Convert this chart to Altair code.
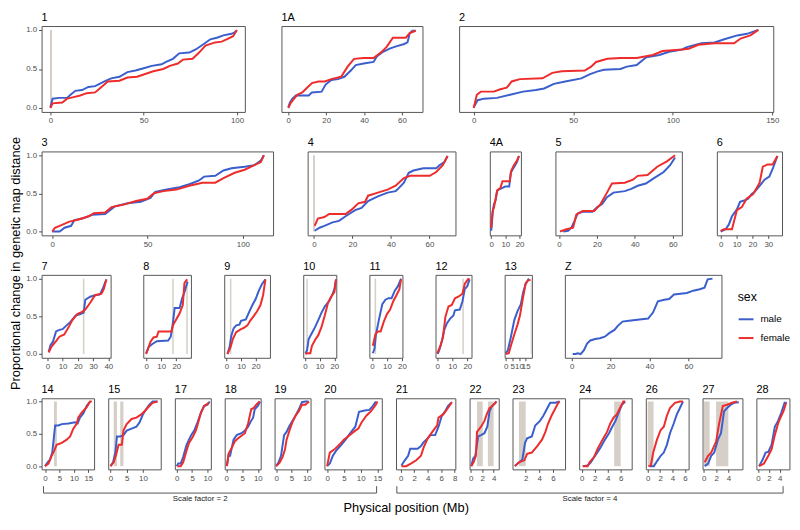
import altair as alt
import pandas as pd

# ---------------- data: (position in Mb, proportional change) ----------------
c1_male = [(0,0.01),(1.2,0.12),(4.7,0.13),(9,0.13),(10.8,0.17),(13.4,0.22),(17,0.23),(20.4,0.27),(24,0.28),(29,0.34),(32.6,0.38),(37,0.40),(41.3,0.46),(45.6,0.48),(50,0.51),(54.4,0.54),(59.6,0.56),(62,0.59),(65.7,0.63),(69,0.70),(74.4,0.71),(77.9,0.75),(82.2,0.82),(85.7,0.88),(89.2,0.90),(92.7,0.93),(97,0.95),(98.8,0.97),(99.5,0.99)]
c1_female = [(0,0.0),(1.2,0.06),(6.4,0.07),(9,0.12),(12.5,0.14),(16,0.16),(19.5,0.19),(24,0.20),(27.4,0.27),(30.8,0.34),(37,0.35),(41.3,0.39),(46.5,0.40),(50,0.43),(55.2,0.47),(60.5,0.50),(64,0.54),(68.3,0.57),(71,0.62),(76.2,0.63),(79.7,0.71),(83.1,0.80),(88.3,0.84),(91.8,0.85),(95.3,0.89),(97.9,0.92),(100,1.0)]
c1A_male = [(0,0.01),(0.9,0.07),(2.2,0.12),(4,0.16),(7.4,0.16),(10.8,0.16),(12.5,0.20),(17.6,0.21),(19.7,0.30),(22.7,0.36),(26.2,0.37),(29.6,0.40),(33,0.48),(35.6,0.55),(39.8,0.57),(45,0.59),(46.7,0.66),(50,0.72),(53.5,0.76),(56.9,0.79),(61.2,0.82),(62.9,0.84),(64.1,0.96),(65.5,0.99),(67.2,0.99)]
c1A_female = [(0,0.0),(1.4,0.07),(3.1,0.12),(4.8,0.17),(7.4,0.20),(9.9,0.26),(12.5,0.32),(15.9,0.34),(19.3,0.34),(22.7,0.37),(27.9,0.40),(31.3,0.53),(34.7,0.63),(39.8,0.64),(45,0.64),(49.3,0.72),(51.8,0.78),(55.2,0.90),(62,0.90),(64.1,0.96),(67.2,0.99)]
c2_male = [(0,0.01),(2,0.10),(5.2,0.12),(11.7,0.13),(18.3,0.17),(24.8,0.21),(31.3,0.23),(35.4,0.25),(40.3,0.31),(46,0.34),(54.1,0.38),(58.2,0.43),(62.3,0.47),(65.5,0.49),(73.7,0.50),(77,0.53),(81.9,0.55),(86.7,0.65),(93.3,0.68),(98.2,0.72),(104.7,0.75),(107.1,0.78),(114.5,0.83),(121,0.84),(125.9,0.88),(132.4,0.93),(137.3,0.95),(143,1.0)]
c2_female = [(0,0.0),(1.6,0.17),(3.6,0.21),(10.1,0.21),(13.4,0.24),(16.6,0.26),(19.1,0.34),(23.2,0.37),(34.6,0.38),(39.5,0.45),(44.3,0.47),(55.8,0.48),(59,0.53),(61.5,0.59),(67.2,0.63),(73.7,0.64),(81.9,0.64),(90,0.68),(94.9,0.73),(104.7,0.75),(108,0.76),(112.9,0.81),(121,0.83),(130.8,0.83),(134.1,0.89),(139,0.93),(143,1.0)]
c3_male = [(0,0.0),(3.9,0.0),(6.5,0.05),(9.9,0.075),(11.6,0.15),(15.8,0.17),(20.9,0.22),(27.7,0.23),(32.8,0.33),(39.6,0.37),(46.4,0.39),(51.5,0.44),(54,0.52),(60,0.55),(66.8,0.58),(71.9,0.62),(77,0.67),(79.6,0.72),(85.5,0.73),(89.8,0.80),(94,0.83),(100.9,0.85),(106,0.87),(109.4,0.93),(111,1.0)]
c3_female = [(0,0.0),(1.4,0.05),(4.8,0.085),(9,0.13),(13.3,0.155),(19.2,0.20),(21.8,0.24),(27.7,0.25),(31.1,0.32),(37,0.35),(43.9,0.40),(49.8,0.43),(53.2,0.50),(58.3,0.53),(65.1,0.55),(71.9,0.60),(78.7,0.64),(85.5,0.64),(89.8,0.70),(95.7,0.77),(100.9,0.81),(106,0.87),(109.4,0.91),(111,1.0)]
c4_male = [(0.35,0.01),(2.9,0.05),(5.4,0.075),(9.6,0.12),(13,0.14),(16.4,0.20),(21.4,0.28),(24.7,0.31),(28.1,0.40),(33.2,0.46),(38.2,0.51),(42.4,0.53),(43.3,0.55),(46.7,0.64),(49.2,0.77),(51.7,0.80),(56.8,0.83),(60.1,0.83),(63.5,0.83),(65.2,0.87),(67.7,0.91),(69.4,0.99)]
c4_female = [(0.35,0.075),(2,0.17),(5.4,0.19),(7.9,0.23),(16.4,0.23),(19.7,0.29),(23,0.37),(26.5,0.39),(28.1,0.47),(33.2,0.51),(38.2,0.55),(42.4,0.60),(46.7,0.70),(50,0.73),(55,0.73),(60.1,0.73),(63.5,0.78),(66.9,0.87),(69.4,0.99)]
c4A_male = [(0,0.01),(0.4,0.09),(1.3,0.30),(2,0.36),(3.1,0.41),(4.2,0.53),(5.3,0.55),(7.6,0.57),(9.8,0.59),(12.7,0.59),(13.8,0.77),(15.3,0.82),(16.9,0.87),(18.2,0.91),(19.6,0.99)]
c4A_female = [(0,0.05),(0.9,0.26),(2,0.32),(3.1,0.43),(4.2,0.54),(6.4,0.57),(8,0.66),(13.1,0.66),(14.2,0.80),(16,0.87),(18.2,0.93),(19.6,0.99)]
c5_male = [(2.2,0.0),(4.8,0.01),(6.5,0.05),(8.2,0.14),(9.9,0.24),(12.5,0.26),(17.6,0.26),(20.2,0.32),(22.7,0.36),(25.3,0.45),(28.7,0.51),(34.7,0.53),(38.1,0.56),(41.5,0.60),(45.8,0.63),(50.1,0.70),(55.2,0.78),(58.6,0.87),(61.2,0.97)]
c5_female = [(0.5,0.0),(3.9,0.03),(7.4,0.05),(9.1,0.22),(12.5,0.27),(18.5,0.27),(21.9,0.36),(25.3,0.51),(27.9,0.63),(34.7,0.64),(39,0.68),(41.5,0.73),(46.7,0.74),(51.8,0.85),(56.9,0.92),(61.2,1.0)]
c6_male = [(0,0.0),(3.1,0.03),(5.1,0.09),(7.1,0.20),(10.2,0.29),(12.2,0.39),(15.3,0.41),(17.3,0.43),(19.4,0.49),(21.4,0.52),(24.5,0.60),(27.6,0.68),(30.6,0.72),(32.7,0.82),(35.7,0.99)]
c6_female = [(0,0.01),(2,0.03),(7.1,0.03),(10.2,0.28),(13.3,0.32),(16.3,0.43),(20.4,0.49),(24.5,0.64),(26.5,0.85),(29.6,0.88),(32.7,0.88),(35.7,0.99)]
c7_male = [(0.9,0.03),(2.1,0.12),(3.6,0.16),(5.7,0.30),(7.9,0.32),(10,0.33),(12.1,0.37),(15.3,0.43),(18.5,0.51),(21.7,0.53),(23.8,0.55),(24.9,0.72),(28.1,0.76),(31.3,0.78),(34.5,0.79),(36.6,0.88),(38.7,0.99)]
c7_female = [(0.9,0.02),(2.6,0.095),(5.7,0.17),(7.9,0.23),(11.1,0.26),(14.3,0.37),(16.4,0.45),(19.6,0.53),(22.8,0.56),(24.9,0.59),(28.1,0.68),(31.3,0.78),(35.5,0.80),(37,0.86),(38.7,0.99)]
c8_male = [(0,0.01),(1.7,0.095),(3.9,0.13),(7.1,0.17),(14.6,0.18),(16.3,0.23),(17.8,0.42),(18.9,0.61),(22.2,0.61),(23.7,0.73),(25.4,0.82),(26.9,0.92),(27.5,0.96)]
c8_female = [(0,0.0),(1.3,0.07),(2.8,0.16),(4.9,0.22),(7.1,0.23),(8.2,0.30),(16.8,0.30),(17.8,0.38),(20,0.46),(22.2,0.54),(24.3,0.65),(25.4,0.94),(27.1,0.99)]
c9_male = [(0.7,0.0),(2.2,0.095),(3.3,0.24),(4.9,0.34),(6.7,0.38),(8.9,0.39),(10,0.44),(13.3,0.46),(15.6,0.56),(17.8,0.65),(20,0.73),(22.2,0.84),(24.4,0.93),(26.7,0.99)]
c9_female = [(0.7,0.0),(2.9,0.095),(4.4,0.20),(6.7,0.29),(10,0.33),(12.2,0.35),(14.4,0.38),(16.2,0.44),(18.9,0.51),(21.1,0.57),(23.3,0.65),(25.1,0.78),(26.7,0.99)]
c10_male = [(0.4,0.01),(1.5,0.05),(2.6,0.20),(4.8,0.28),(7,0.36),(9.1,0.45),(11.3,0.55),(13.5,0.63),(16.7,0.71),(18.9,0.80),(20,0.86),(21.1,0.99)]
c10_female = [(0.4,0.0),(1.5,0.01),(3.7,0.01),(4.8,0.11),(7,0.19),(9.1,0.25),(11.3,0.36),(13.5,0.51),(15.7,0.68),(17.8,0.76),(20,0.82),(21.1,0.99)]
c11_male = [(0.6,0.01),(1.7,0.07),(2.7,0.26),(4.8,0.47),(6.9,0.66),(9,0.72),(11,0.74),(13.1,0.74),(15.2,0.84),(17.3,0.90),(19.4,1.0)]
c11_female = [(0.6,0.11),(2.3,0.26),(3.8,0.30),(5.8,0.30),(7.9,0.43),(10,0.53),(12.1,0.59),(14.2,0.70),(16.3,0.78),(18.3,0.86),(19.4,0.99)]
c12_male = [(0.4,0.0),(1.7,0.07),(3.2,0.18),(4.7,0.32),(6.5,0.41),(8.6,0.47),(10.8,0.51),(11.8,0.58),(15,0.59),(16.8,0.70),(18.3,0.86),(20,0.90),(21.5,0.99)]
c12_female = [(0,0.01),(2.2,0.11),(3.9,0.23),(5.4,0.49),(7.5,0.63),(9.7,0.65),(11.8,0.74),(14,0.76),(16.8,0.80),(18.3,0.93),(20.4,0.99),(21.5,1.0)]
c13_male = [(0,0.01),(1.7,0.05),(4.1,0.24),(6.5,0.45),(8.9,0.57),(11.4,0.66),(13.1,0.82),(15,0.93),(17.4,1.0)]
c13_female = [(0,0.0),(2.4,0.01),(4.1,0.12),(6.5,0.26),(8.9,0.39),(10.7,0.51),(12.6,0.71),(15,0.94),(16.9,0.98),(18.6,0.98)]
cZ_male = [(0.5,0.0),(2.1,0.0),(3,0.01),(4.6,0.0),(6.3,0.05),(7.9,0.14),(9.6,0.18),(12.1,0.20),(14.5,0.21),(17,0.23),(19.5,0.28),(22,0.32),(23.6,0.37),(26.1,0.43),(29.4,0.44),(32.7,0.45),(36,0.46),(39.3,0.47),(41.8,0.55),(44.3,0.70),(47.6,0.72),(50.1,0.73),(52.6,0.79),(55.9,0.80),(59.2,0.81),(62.5,0.84),(65.8,0.86),(68.3,0.88),(69.9,0.99),(72.4,1.0)]
cZ_female = []
c14_male = [(0,0.0),(0.9,0.06),(1.7,0.10),(2.5,0.21),(3.5,0.63),(4.6,0.63),(5.8,0.65),(8.1,0.66),(10.4,0.68),(11.3,0.66),(12.1,0.75),(13.3,0.82),(14.4,0.93),(15.6,1.0)]
c14_female = [(0,0.0),(1.2,0.04),(2.3,0.16),(3.2,0.24),(4,0.33),(5.8,0.36),(7.5,0.41),(8.7,0.46),(9.8,0.58),(11,0.66),(11.5,0.75),(12.7,0.83),(14.4,0.91),(15.6,1.0),(16.2,1.0)]
c15_male = [(0,0.0),(0.8,0.06),(1.5,0.21),(2,0.46),(3,0.46),(4,0.48),(5,0.55),(6.5,0.58),(8,0.61),(9,0.68),(10,0.80),(11,0.88),(12,0.95),(13,1.0),(14.5,1.0)]
c15_female = [(0,0.0),(1,0.06),(1.8,0.19),(2.5,0.33),(3.5,0.33),(4,0.55),(5,0.65),(6.5,0.73),(8,0.75),(9.5,0.80),(10.5,0.85),(12,0.93),(13,0.98),(14.5,1.0)]
c17_male = [(0,0.0),(0.5,0.04),(1.3,0.04),(2.1,0.14),(3.2,0.33),(4,0.41),(4.7,0.48),(5.8,0.56),(6.8,0.68),(7.9,0.83),(8.9,0.93),(10,0.95),(10.7,1.0)]
c17_female = [(0.2,0.0),(1.3,0.0),(2.1,0.06),(3.2,0.24),(4,0.36),(5.3,0.46),(6.3,0.56),(7.2,0.71),(7.9,0.83),(8.9,0.93),(10.5,0.98)]
c18_male = [(0.2,0.01),(0.7,0.16),(1.2,0.16),(2.3,0.41),(3.3,0.48),(4.8,0.51),(5.9,0.55),(6.9,0.61),(7.6,0.68),(8.5,0.75),(9,0.88),(10,0.93),(10.7,1.0)]
c18_female = [(0.2,0.0),(0.7,0.19),(1.8,0.29),(2.8,0.39),(3.8,0.43),(4.8,0.47),(5.9,0.51),(6.9,0.66),(7.9,0.88),(8.7,0.90),(9.5,0.95),(10.5,1.0)]
c19_male = [(0,0.0),(0.8,0.06),(1.6,0.16),(2.6,0.48),(3.4,0.53),(4.2,0.61),(5.3,0.70),(6.3,0.78),(7.4,0.88),(8.4,0.99),(9.5,1.0),(10.5,1.0)]
c19_female = [(0,0.0),(1.1,0.05),(2.1,0.14),(2.9,0.26),(3.4,0.41),(4.4,0.56),(5.3,0.68),(6.3,0.78),(7.4,0.85),(8.4,0.95),(9.5,0.95),(10.7,1.0)]
c20_male = [(0,0.0),(0.8,0.04),(1.7,0.16),(2.7,0.24),(4.1,0.32),(5.5,0.41),(6.9,0.51),(8.4,0.61),(9.5,0.84),(11.2,0.86),(12.6,0.87),(13.6,0.93),(14.5,1.0)]
c20_female = [(0,0.0),(0.8,0.21),(2.2,0.26),(3.6,0.33),(5,0.41),(6.5,0.47),(7.9,0.53),(9.3,0.58),(10.3,0.68),(11.7,0.78),(13.1,0.85),(14.5,0.95),(15,1.0)]
c21_male = [(0.1,0.01),(0.6,0.09),(1.1,0.16),(1.4,0.27),(2.5,0.27),(3,0.31),(3.4,0.37),(4,0.43),(4.4,0.48),(5.1,0.48),(5.6,0.61),(6.1,0.78),(6.6,0.85),(7,0.93),(7.5,0.98)]
c21_female = [(0.1,0.0),(0.8,0.0),(1.5,0.04),(2.3,0.09),(3,0.16),(3.4,0.29),(4,0.43),(4.9,0.56),(5.4,0.63),(5.6,0.75),(6.3,0.80),(7,0.90),(7.6,0.99)]
c22_male = [(0.1,0.0),(0.4,0.11),(0.8,0.16),(1.3,0.46),(1.8,0.48),(2.4,0.51),(2.9,0.61),(3.3,0.85),(3.7,0.93),(4.1,0.96),(4.5,1.0)]
c22_female = [(0.1,0.0),(0.5,0.06),(0.9,0.16),(1.1,0.53),(1.8,0.61),(2.4,0.70),(2.8,0.80),(3.3,0.90),(3.8,0.93),(4.5,1.0)]
c23_male = [(0.4,0.0),(0.8,0.04),(1.5,0.10),(1.9,0.36),(2.2,0.43),(2.9,0.46),(3.4,0.63),(4.1,0.70),(4.6,0.78),(5.1,0.88),(5.6,0.98),(6.4,0.98),(7,1.0)]
c23_female = [(0.4,0.0),(1,0.06),(1.8,0.09),(2.2,0.19),(2.9,0.21),(3.7,0.31),(4.4,0.41),(4.9,0.53),(5.3,0.66),(5.8,0.78),(6.3,0.88),(6.8,0.98),(7,1.0)]
c24_male = [(0.15,0.0),(0.9,0.01),(1.4,0.06),(1.9,0.14),(2.4,0.21),(2.9,0.29),(3.4,0.38),(4.2,0.51),(4.7,0.61),(5.2,0.70),(5.7,0.83),(6.2,0.95),(6.7,1.0)]
c24_female = [(0.15,0.0),(0.9,0.0),(1.2,0.06),(1.9,0.14),(2.4,0.26),(3.2,0.41),(3.9,0.53),(4.4,0.66),(4.9,0.75),(5.4,0.80),(5.9,0.90),(6.4,1.0),(6.7,1.0)]
c26_male = [(0.3,0.0),(1,0.0),(1.6,0.09),(2.1,0.16),(2.6,0.21),(3.1,0.33),(3.6,0.51),(4.2,0.66),(4.7,0.80),(5.2,0.90),(5.7,1.0)]
c26_female = [(0.1,0.0),(0.5,0.01),(0.9,0.21),(1.5,0.41),(2.1,0.56),(2.6,0.61),(3.1,0.78),(3.6,0.90),(4.4,0.98),(5.2,1.0),(5.7,1.0)]
c27_male = [(0.15,0.0),(0.7,0.04),(1.2,0.16),(1.7,0.21),(2.3,0.41),(2.8,0.51),(3.3,0.85),(3.8,0.90),(4.4,0.95),(4.9,0.98),(5.7,0.99)]
c27_female = [(0.15,0.06),(0.7,0.16),(1.2,0.21),(2,0.38),(2.5,0.66),(3.1,0.93),(3.8,0.95),(4.6,0.98),(5.4,1.0)]
c28_male = [(0.2,0.0),(0.8,0.09),(1.4,0.21),(1.9,0.22),(2.5,0.33),(3.1,0.61),(3.7,0.70),(4.3,0.83),(4.9,0.98),(5.3,0.98)]
c28_female = [(0.2,0.0),(1.1,0.04),(1.9,0.16),(2.5,0.26),(3.1,0.48),(3.7,0.66),(4.3,0.78),(4.7,0.85),(5.2,0.98)]

# grey (unassembled / gap) regions, Mb
gray_regions = {
    "1": [(-0.2, 0.9)], "4": [(-0.5, 0.5)], "7": [(23.3, 24.3)],
    "8": [(17.3, 18.3), (26.6, 27.6)], "9": [(2.4, 3.4)], "10": [(1.0, 2.0)],
    "11": [(1.8, 2.8)], "12": [(16.7, 17.7)], "13": [(18.7, 19.6)],
    "14": [(3.1, 4.1)], "15": [(1.0, 2.0), (3.0, 4.0)],
    "22": [(1.1, 2.1), (3.0, 4.0)], "23": [(1.0, 2.0)], "24": [(5.0, 6.0)],
    "26": [(0.0, 0.95)], "27": [(0.0, 0.95), (2.0, 4.0)],
}

# x-axis domains and tick labels
x_domains = {
    "1": [-4.7, 104.2], "1A": [-3.6, 70.8], "2": [-7.3, 150.5],
    "3": [-5.6, 115.8], "4": [-3.3, 73.5], "4A": [-1, 21], "5": [-1.9, 64.8], "6": [-2.4, 38.6],
    "7": [-3.8, 41.5], "8": [-1.9, 29.7], "9": [-1.5, 29.8], "10": [-1.1, 21.3], "11": [-1.7, 20.3],
    "12": [-1.1, 22.8], "13": [-0.7, 19.6], "Z": [-3.5, 77],
    "14": [-1.2, 17], "15": [-0.7, 15.5], "17": [-0.6, 11.1], "18": [-0.5, 10.9], "19": [-0.5, 11.2],
    "20": [-0.8, 16.3], "21": [-0.7, 8.1], "22": [-0.2, 4.9], "23": [0.05, 7.8], "24": [-0.4, 7.7],
    "26": [-0.3, 6.6], "27": [-0.2, 6.3], "28": [-0.3, 5.8],
}
x_ticks = {
    "1": [0, 50, 100], "1A": [0, 20, 40, 60], "2": [0, 50, 100, 150],
    "3": [0, 50, 100], "4": [0, 20, 40, 60], "4A": [0, 10, 20], "5": [0, 20, 40, 60], "6": [0, 10, 20, 30],
    "7": [0, 10, 20, 30, 40], "8": [0, 10, 20], "9": [0, 10, 20], "10": [0, 10, 20], "11": [0, 10, 20],
    "12": [0, 10, 20], "13": [0, 5, 10, 15], "Z": [0, 20, 40, 60],
    "14": [0, 5, 10, 15], "15": [0, 5, 10], "17": [0, 5, 10], "18": [0, 5, 10], "19": [0, 5, 10],
    "20": [0, 5, 10, 15], "21": [0, 2, 4, 6, 8], "22": [0, 2, 4], "23": [2, 4, 6], "24": [0, 2, 4, 6],
    "26": [0, 2, 4, 6], "27": [0, 2, 4], "28": [0, 2, 4],
}
series = {
    "1": (c1_male, c1_female), "1A": (c1A_male, c1A_female), "2": (c2_male, c2_female),
    "3": (c3_male, c3_female), "4": (c4_male, c4_female), "4A": (c4A_male, c4A_female),
    "5": (c5_male, c5_female), "6": (c6_male, c6_female), "7": (c7_male, c7_female),
    "8": (c8_male, c8_female), "9": (c9_male, c9_female), "10": (c10_male, c10_female),
    "11": (c11_male, c11_female), "12": (c12_male, c12_female), "13": (c13_male, c13_female),
    "Z": (cZ_male, cZ_female), "14": (c14_male, c14_female), "15": (c15_male, c15_female),
    "17": (c17_male, c17_female), "18": (c18_male, c18_female), "19": (c19_male, c19_female),
    "20": (c20_male, c20_female), "21": (c21_male, c21_female), "22": (c22_male, c22_female),
    "23": (c23_male, c23_female), "24": (c24_male, c24_female), "26": (c26_male, c26_female),
    "27": (c27_male, c27_female), "28": (c28_male, c28_female),
}

# ---------------- layout ----------------
SX = 0.985
rows = [
    (["1", "1A", "2"], [209, 145, 323], 37.5, 87),
    (["3", "4", "4A", "5", "6"], [238, 152, 32, 130, 67], 35, 85),
    (["7", "8", "9", "10", "11", "12", "13", "Z"], [71, 49, 47, 34, 34, 37, 28, 161], 33.5, 84),
    (["14", "15", "17", "18", "19", "20", "21", "22", "23", "24", "26", "27", "28"],
     [54, 54, 37, 37, 37, 59, 61, 30, 54, 54, 44, 41, 34], 13.7, 72),
]
ROW_SPACING = 11

BLUE = "#3a5fcd"
RED = "#ee2c2c"
GRAY = "#d5cfc7"
FRAME = "#555555"
FONT = "Liberation Sans"

color_scale = alt.Scale(domain=["male", "female"], range=[BLUE, RED])
legend = alt.Legend(
    title="sex", orient="none", legendX=705, legendY=268,
    symbolType="stroke", symbolStrokeWidth=2, symbolSize=225,
    titleFontSize=12.5, titleFontWeight="normal", titleColor="black", titleFont=FONT,
    labelFontSize=10, labelColor="black", labelFont=FONT, labelOffset=6,
    rowPadding=5, titlePadding=8, padding=0,
)
ys = alt.Scale(domain=[-0.05, 1.05], nice=False, zero=False)


def make_panel(name, w, h, first, extra=None):
    xs = alt.Scale(domain=x_domains[name], nice=False, zero=False)
    xax = alt.Axis(values=x_ticks[name], title=None, format="d")
    yax = alt.Axis(values=[0, 0.5, 1], format=".1f", title=None) if first else None
    layers = []
    if name in gray_regions:
        g = pd.DataFrame({"start": [a for a, b in gray_regions[name]],
                          "end": [b for a, b in gray_regions[name]]})
        g["lo"] = 0.0
        g["hi"] = 1.0
        layers.append(alt.Chart(g).mark_rect(color=GRAY).encode(
            x=alt.X("start:Q", scale=xs, axis=xax), x2="end:Q",
            y=alt.Y("lo:Q", scale=ys, axis=yax), y2="hi:Q"))
    for sex, pts in zip(["male", "female"], series[name]):
        if not pts:
            continue
        df = pd.DataFrame({"pos": [a for a, b in pts], "prop": [b for a, b in pts],
                           "i": list(range(len(pts)))})
        df["sex"] = sex
        layers.append(alt.Chart(df).mark_line(strokeWidth=2).encode(
            x=alt.X("pos:Q", scale=xs, axis=xax),
            y=alt.Y("prop:Q", scale=ys, axis=yax),
            color=alt.Color("sex:N", scale=color_scale, legend=legend),
            order="i:Q"))
    if extra:
        layers.extend(extra)
    return alt.layer(*layers).properties(width=w, height=h, title=name)


def bracket_layers(widths, gap, h):
    lefts = []
    x = 0.0
    for w in widths:
        lefts.append(x)
        x += w + gap
    total = lefts[-1] + widths[-1]
    b1 = (lefts[0] + 2, lefts[5] + widths[5] - 2)
    b2 = (lefts[6] + 5, lefts[12] + widths[12] + 2)
    one = pd.DataFrame({"k": [0]})
    out = []
    for (a, b), lab, cx in [(b1, "Scale factor = 2", (b1[0] + b1[1]) / 2 - 10),
                            (b2, "Scale factor = 4", (b2[0] + b2[1]) / 2)]:
        out.append(alt.Chart(one).mark_rule(color=FRAME, strokeWidth=1).encode(
            x=alt.value(a), x2=alt.value(b), y=alt.value(h + 24)))
        out.append(alt.Chart(one).mark_rule(color=FRAME, strokeWidth=1).encode(
            x=alt.value(a), y=alt.value(h + 17), y2=alt.value(h + 24)))
        out.append(alt.Chart(one).mark_rule(color=FRAME, strokeWidth=1).encode(
            x=alt.value(b), y=alt.value(h + 17), y2=alt.value(h + 24)))
        out.append(alt.Chart(one).mark_text(text=lab, fontSize=8, font=FONT, color="#222222",
                                            align="center", baseline="middle").encode(
            x=alt.value(cx), y=alt.value(h + 30)))
    out.append(alt.Chart(one).mark_text(text="Physical position (Mb)", fontSize=13, font=FONT,
                                        color="black", align="center", baseline="middle").encode(
        x=alt.value(total * 0.493), y=alt.value(h + 39)))
    return out


row_charts = []
for r, (names, widths, gap, h) in enumerate(rows):
    ws = [w * SX for w in widths]
    g = gap * SX
    panels = []
    for i, (n, w) in enumerate(zip(names, ws)):
        extra = bracket_layers(ws, g, h) if (r == 3 and i == 0) else None
        panels.append(make_panel(n, w, h, i == 0, extra))
    row_charts.append(alt.hconcat(*panels, spacing=g, bounds="flush"))

chart = alt.vconcat(*row_charts, spacing=ROW_SPACING).properties(
    title=alt.TitleParams("Proportional change in genetic map distance", orient="left",
                          anchor="middle", fontSize=13, font=FONT, fontWeight="normal",
                          color="black", offset=2, frame="bounds"),
    padding={"left": 2, "top": 0, "right": 0, "bottom": 0},
).configure_view(
    stroke=FRAME, strokeWidth=1
).configure_axis(
    labelFont=FONT, labelFontSize=8, labelColor="#4d4d4d", tickColor="#4d4d4d",
    tickSize=3, tickWidth=1, domain=False, grid=False, labelPadding=2,
    labelOverlap=False, labelFlush=False, labelBound=False
).configure_title(
    font=FONT, fontSize=11, fontWeight="normal", color="black", anchor="start", offset=3,
    frame="group"
)

chart.save("out.html", embed_options={"renderer": "svg", "actions": False})
